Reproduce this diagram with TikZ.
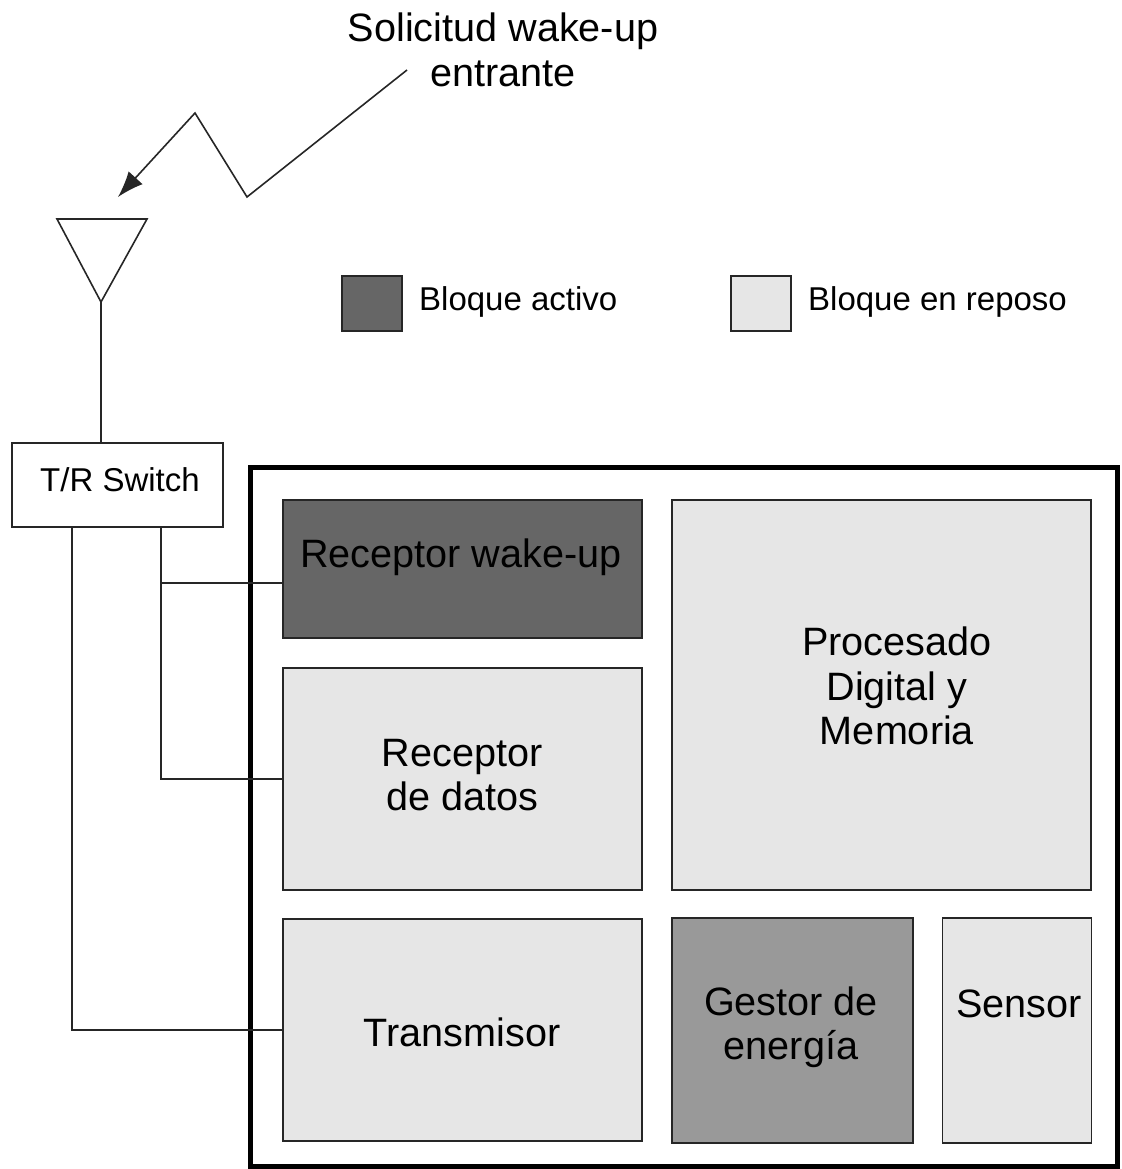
\documentclass[tikz,border=0pt]{standalone}
\usepackage{fontspec}
\setmainfont{Liberation Sans}
\usetikzlibrary{arrows.meta}
\definecolor{edge}{HTML}{262626}
\definecolor{activo}{HTML}{666666}
\definecolor{reposo}{HTML}{E6E6E6}
\definecolor{medio}{HTML}{999999}
\tikzset{
  blk/.style={draw=edge, line width=1.6pt, rectangle, inner sep=0pt},
  wire/.style={draw=edge, line width=1.6pt},
  big/.style={font=\fontsize{39.6}{44.5}\selectfont, align=center, inner sep=0pt},
  small/.style={font=\fontsize{33}{38}\selectfont, inner sep=0pt},
}
\begin{document}
\begin{tikzpicture}[x=1pt,y=-1pt]
\useasboundingbox (0,0) rectangle (1121,1169);
% title
\node[big] (title) at (503,50) {Solicitud wake-up\\entrante};
% zigzag arrow
\coordinate (z0) at (407,70);
\coordinate (z1) at (247,197);
\coordinate (z2) at (195,113);
\coordinate (z3) at (118,197);
\draw[wire, -{Latex[length=26pt,width=19pt]}] (z0) -- (z1) -- (z2) -- (z3);
% antenna
\coordinate (a1) at (57,219);
\coordinate (a2) at (147,219);
\coordinate (ab) at (101,302);
\draw[wire, line join=miter] (a1) -- (a2) -- (ab) -- cycle;
% legend
\node[blk, fill=activo, minimum width=60pt, minimum height=55pt] (lga) at (372,303.5) {};
\node[small, anchor=west] (lgat) at (419,302) {Bloque activo};
\node[blk, fill=reposo, minimum width=60pt, minimum height=55pt] (lgr) at (761,303.5) {};
\node[small, anchor=west] (lgrt) at (808,302) {Bloque en reposo};
% T/R switch
\node[blk, fill=white, minimum width=211pt, minimum height=84pt] (sw) at (117.5,485) {};
\node[small] (swt) at (120,480) {T/R Switch};
\draw[wire] (ab) -- (ab |- sw.north);
% outer box
\node[draw=black, line width=5pt, rectangle, minimum width=867pt, minimum height=699pt, inner sep=0pt] (outer) at (683.5,816.5) {};
% blocks
\node[blk, fill=activo, minimum width=359pt, minimum height=138pt] (rw) at (462.5,569) {};
\node[big] (rwt) at (461,557) {Receptor wake-up};
\node[blk, fill=reposo, minimum width=359pt, minimum height=222pt] (rd) at (462.5,779) {};
\node[big] (rdt) at (462,775) {Receptor\\de datos};
\node[blk, fill=reposo, minimum width=419pt, minimum height=390pt] (pd) at (881.5,695) {};
\node[big] (pdt) at (897,686) {Procesado\\Digital y\\Memoria};
\node[blk, fill=reposo, minimum width=359pt, minimum height=222pt] (tx) at (462.5,1030) {};
\node[big] (txt) at (462,1032) {Transmisor};
\node[blk, fill=medio, minimum width=241pt, minimum height=225pt] (ge) at (792.5,1030.5) {};
\node[big] (get) at (791,1027) {Gestor de\\energía};
\node[blk, fill=reposo, minimum width=149pt, minimum height=225pt] (se) at (1017,1030.5) {};
\node[big] (set) at (1019,1004) {Sensor};
% wires from switch
\coordinate (p1) at (72,0);
\coordinate (p2) at (161,0);
\coordinate (rwin) at (283,583);
\draw[wire] (p1 |- sw.south) |- (tx.west);
\draw[wire] (p2 |- sw.south) |- (rd.west);
\draw[wire] (p2 |- rwin) -- (rwin);
\end{tikzpicture}
\end{document}
